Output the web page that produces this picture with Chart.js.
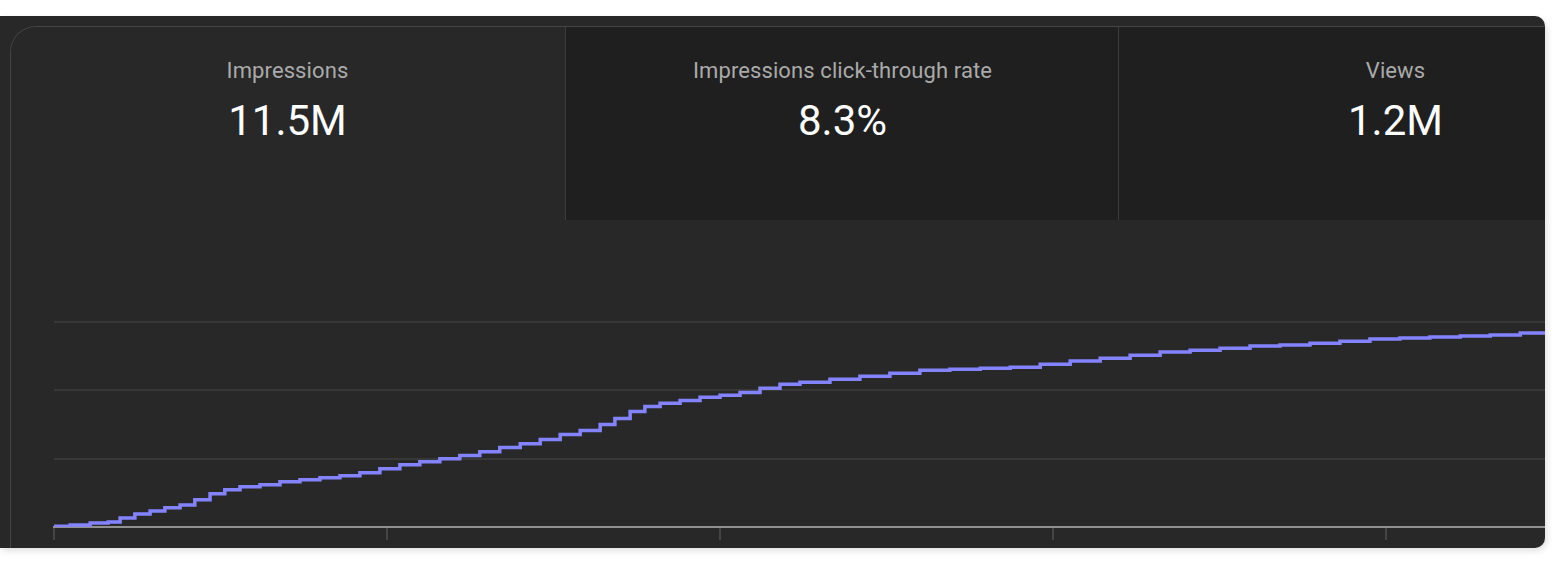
<!DOCTYPE html>
<html lang="en">
<head>
    <meta charset="UTF-8">
    <title>Impressions</title>
    <script src="https://cdn.jsdelivr.net/npm/chart.js"></script>
    <style>
        body { margin: 0; background: #ffffff; font-family: Roboto, "Noto Sans", sans-serif; }
        .card {
            position: absolute; left: 0; top: 16px; width: 1545px; height: 532px;
            background: #282828; border-radius: 0 10px 10px 0; overflow: hidden;
            box-shadow: 2px 3px 6px rgba(0, 0, 0, 0.12);
        }
        .panel {
            position: absolute; left: 10px; top: 10px; width: 1600px; height: 600px;
            border-top: 1px solid #454545; border-left: 1px solid #454545;
            border-top-left-radius: 26px; overflow: hidden;
        }
        .tab {
            position: absolute; top: 0; width: 553px; height: 193px; background: #1f1f1f;
            border-left: 1px solid #3c3c3c; text-align: center;
        }
        .tab.active { background: #282828; border-left: none; }
        .tab .label { position: absolute; left: 0; right: 0; top: 31px; font-size: 22px; line-height: 26px; color: #aaaaaa; letter-spacing: 0.1px; }
        .tab .value { position: absolute; left: 0; right: 0; top: 69px; font-size: 42px; line-height: 50px; color: #ffffff; }
        #chartWrap { position: absolute; left: 44px; top: 298px; width: 1501px; height: 254px; }
    </style>
</head>
<body>
    <div class="card">
        <div class="panel">
            <div class="tab active" style="left: 0;">
                <div class="label">Impressions</div>
                <div class="value">11.5M</div>
            </div>
            <div class="tab" style="left: 554px;">
                <div class="label">Impressions click-through rate</div>
                <div class="value">8.3%</div>
            </div>
            <div class="tab" style="left: 1107px;">
                <div class="label">Views</div>
                <div class="value">1.2M</div>
            </div>
        </div>
    </div>
    <div id="chartWrap"><canvas id="impChart"></canvas></div>
    <script>
        // dias desde o início
        const days = [0, 0.34, 0.76, 1.14, 1.39, 1.70, 2.02, 2.33, 2.65, 2.96, 3.28, 3.59, 3.91, 4.33, 4.75,
            5.17, 5.59, 6.01, 6.43, 6.85, 7.27, 7.69, 8.11, 8.53, 8.95, 9.37, 9.80, 10.22, 10.64, 11.06,
            11.48, 11.79, 12.11, 12.42, 12.74, 13.16, 13.58, 14.00, 14.42, 14.84, 15.26, 15.68, 16.31,
            16.94, 17.57, 18.20, 18.83, 19.47, 20.10, 20.73, 21.36, 21.99, 22.62, 23.25, 23.88, 24.51,
            25.14, 25.77, 26.40, 27.03, 27.66, 28.29, 28.92, 29.56, 30.19, 30.82, 31.34];

        // impressões acumuladas (milhões)
        const impressions = [0.05, 0.12, 0.24, 0.29, 0.53, 0.76, 0.94, 1.12, 1.29, 1.59, 1.94, 2.18, 2.35,
            2.47, 2.65, 2.76, 2.88, 3.00, 3.18, 3.41, 3.65, 3.82, 4.00, 4.18, 4.41, 4.65, 4.88, 5.12, 5.41,
            5.65, 6.00, 6.35, 6.76, 7.06, 7.24, 7.41, 7.59, 7.71, 7.88, 8.12, 8.35, 8.47, 8.65, 8.82, 9.00,
            9.18, 9.24, 9.29, 9.35, 9.53, 9.71, 9.88, 10.06, 10.24, 10.35, 10.47, 10.59, 10.65, 10.76,
            10.88, 11.00, 11.06, 11.12, 11.18, 11.24, 11.35, 11.41];

        const xTickStep = 7;
        const yTicks = [0, 4, 8, 12];

        const ctx = document.getElementById('impChart').getContext('2d');
        const impChart = new Chart(ctx, {
            type: 'line',
            data: {
                datasets: [{
                    label: 'Impressions',
                    data: days.map((d, i) => ({ x: d, y: impressions[i] })),
                    borderColor: '#8383ff',
                    borderWidth: 3.5,
                    pointRadius: 0,
                    stepped: true,
                    fill: false
                }]
            },
            options: {
                responsive: true,
                maintainAspectRatio: false,
                animation: false,
                layout: { padding: { left: 10, top: 24, right: 0, bottom: 12 } },
                plugins: { legend: { display: false }, tooltip: { enabled: false } },
                scales: {
                    x: {
                        type: 'linear',
                        min: 0,
                        max: 31.34,
                        ticks: { display: false, stepSize: xTickStep, includeBounds: false },
                        grid: { drawOnChartArea: false, drawTicks: true, tickLength: 13, color: '#454545', lineWidth: 2 },
                        border: { display: true, color: '#909090', width: 2 }
                    },
                    y: {
                        min: yTicks[0],
                        max: yTicks[yTicks.length - 1],
                        ticks: { display: false, stepSize: 4 },
                        grid: { drawTicks: false, color: '#383838', lineWidth: 2 },
                        border: { display: false }
                    }
                }
            }
        });
    </script>
</body>
</html>
